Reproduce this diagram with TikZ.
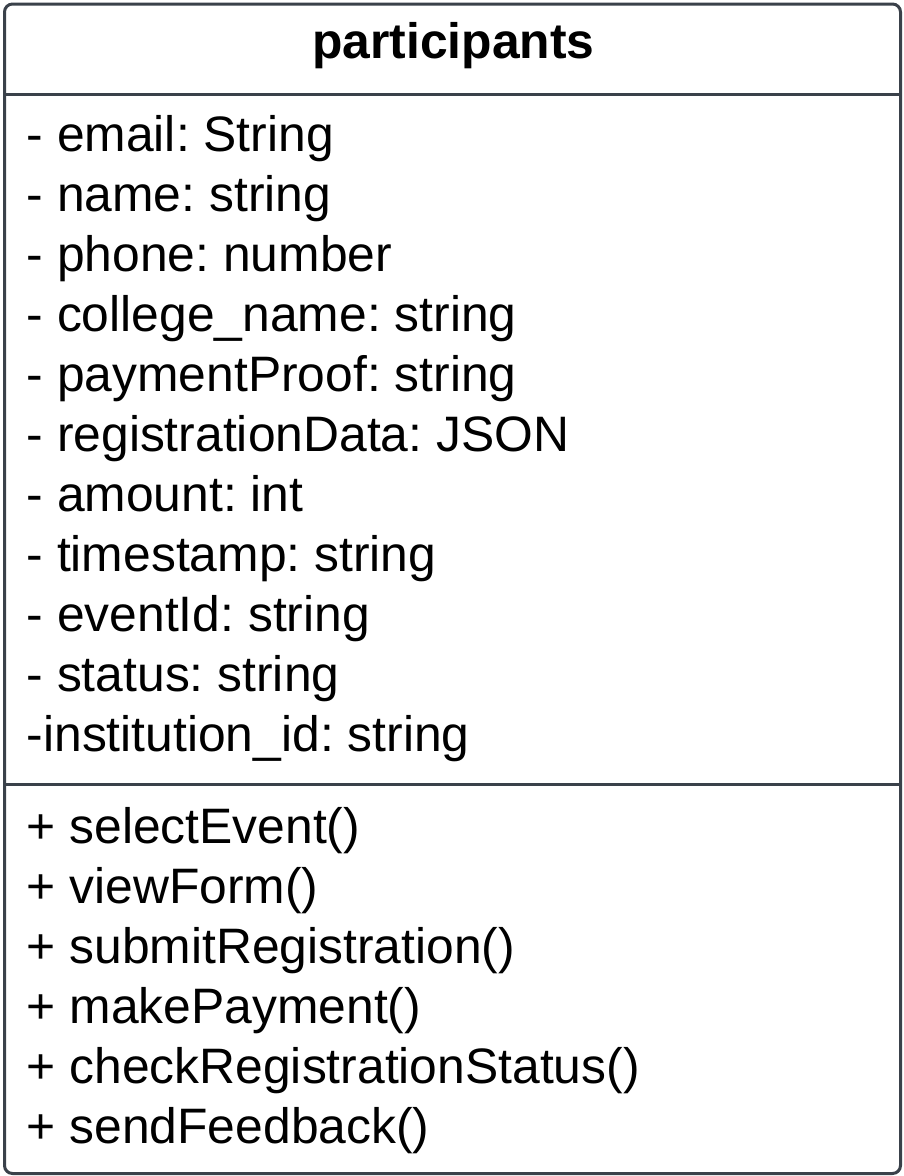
\documentclass[tikz,border=0pt]{standalone}
\usepackage{fontspec}
\setmainfont{Liberation Sans}
\usetikzlibrary{positioning}
\definecolor{slate}{RGB}{58,65,74}
\frenchspacing
\tikzset{
  frame/.style={draw=slate,line width=3pt,rounded corners=8pt},
  divider/.style={draw=slate,line width=3pt},
  title/.style={anchor=base,inner sep=0pt,font=\fontsize{49.8}{60}\selectfont\bfseries},
  member/.style={anchor=base west,inner sep=0pt,font=\fontsize{49.8}{60}\selectfont},
}
\begin{document}
\begin{tikzpicture}[x=1pt,y=-1pt]
  \useasboundingbox (0,0) rectangle (904,1176);
  % class box
  \fill[white] (0,0) rectangle (904,1176);
  \draw[frame] (4.5,4) rectangle (900.5,1173.5);
  \draw[divider] (4.5,94) -- (900.5,94);
  \draw[divider] (4.5,784) -- (900.5,784);
  \node[title] (name) at (453.5,58) {participants};
  % attributes
  \foreach \txt [count=\i] in {- email: String,- name: string,- phone: number,
      - college\_name: string,- paymentProof: string,- registrationData: JSON,
      - amount: int,- timestamp: string,- eventId: string,- status: string,
      -institution\_id: string}
    \node[member] (attr\i) at (26.5,{151+60*(\i-1)}) {\txt};
  % operations
  \foreach \txt [count=\i] in {+ selectEvent(),+ viewForm(),+ submitRegistration(),
      + makePayment(),+ checkRegistrationStatus(),+ sendFeedback()}
    \node[member] (op\i) at (26.5,{843+60*(\i-1)}) {\txt};
\end{tikzpicture}
\end{document}
